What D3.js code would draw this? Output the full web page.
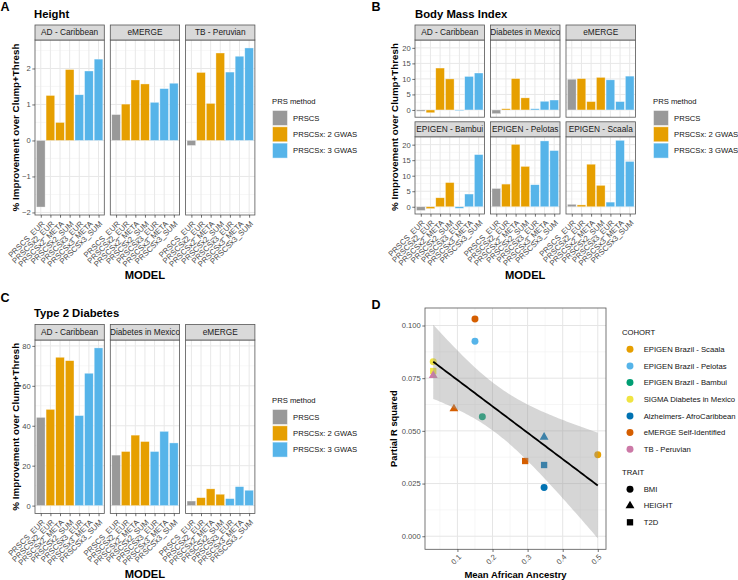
<!DOCTYPE html>
<html>
<head>
<meta charset="UTF-8">
<script src="https://d3js.org/d3.v7.min.js"></script>
<title>PRS improvement</title>
<style>
body{margin:0;background:#fff;}
svg{display:block;font-family:"Liberation Sans",Arial,sans-serif;}
</style>
</head>
<body>
<div id="container"></div>
<script>
// bar panels: models on x, one series per cohort
var models = ["PRSCS_EUR","PRSCSx2_EUR","PRSCSx2_META","PRSCSx2_SUM","PRSCSx3_EUR","PRSCSx3_META","PRSCSx3_SUM"];
var modelMethod = ["PRSCS","PRSCSx: 2 GWAS","PRSCSx: 2 GWAS","PRSCSx: 2 GWAS","PRSCSx: 3 GWAS","PRSCSx: 3 GWAS","PRSCSx: 3 GWAS"];
var methods = ["PRSCS","PRSCSx: 2 GWAS","PRSCSx: 3 GWAS"];
var methodColors = ["#999999","#E69F00","#56B4E9"];

var heightCohorts = ["AD - Caribbean","eMERGE","TB - Peruvian"];
var heightValues = [
  [-1.85,1.25,0.50,1.97,1.27,1.93,2.26],
  [0.72,1.01,1.68,1.57,1.06,1.44,1.59],
  [-0.14,1.89,1.03,2.43,1.90,2.34,2.57]
];
var heightTicks = [-2,-1,0,1,2];

var bmiCohorts = ["AD - Caribbean","Diabetes in Mexico","eMERGE","EPIGEN - Bambui","EPIGEN - Pelotas","EPIGEN - Scaala"];
var bmiValues = [
  [-0.4,-0.9,13.5,10.0,-0.2,10.8,11.9],
  [-1.2,0.4,10.1,3.9,0.4,2.8,3.2],
  [9.9,10.1,2.7,10.5,9.7,2.7,10.9],
  [-1.2,-0.6,2.9,7.8,-0.5,4.1,16.8],
  [5.9,7.3,20.1,13.0,7.1,21.2,18.1],
  [0.8,0.6,13.7,6.9,1.5,21.4,14.6]
];
var bmiTicks = [0,5,10,15,20];

var t2dCohorts = ["AD - Caribbean","Diabetes in Mexico","eMERGE"];
var t2dValues = [
  [44.2,48.2,74.3,72.6,45.1,66.3,79.0],
  [25.3,27.1,35.3,32.1,27.1,37.2,31.4],
  [2.3,4.0,8.4,5.7,3.5,9.5,7.7]
];
var t2dTicks = [0,20,40,60,80];

// scatter panel D
var cohorts = ["EPIGEN Brazil - Scaala","EPIGEN Brazil - Pelotas","EPIGEN Brazil - Bambui","SIGMA Diabetes in Mexico","Alzheimers- AfroCaribbean","eMERGE Self-Identified","TB - Peruvian"];
var cohortColors = ["#E69F00","#56B4E9","#009E73","#F0E442","#0072B2","#D55E00","#CC79A7"];
var traits = ["BMI","HEIGHT","T2D"];
var pointCohort = ["EPIGEN Brazil - Scaala","EPIGEN Brazil - Pelotas","EPIGEN Brazil - Bambui","SIGMA Diabetes in Mexico","SIGMA Diabetes in Mexico","Alzheimers- AfroCaribbean","Alzheimers- AfroCaribbean","Alzheimers- AfroCaribbean","eMERGE Self-Identified","eMERGE Self-Identified","eMERGE Self-Identified","TB - Peruvian"];
var pointTrait = ["BMI","BMI","BMI","BMI","T2D","BMI","HEIGHT","T2D","BMI","HEIGHT","T2D","HEIGHT"];
var ancestry = [0.50,0.15,0.171,0.031,0.031,0.347,0.347,0.347,0.15,0.09,0.293,0.031];
var partialR2 = [0.0387,0.0925,0.0567,0.0828,0.0784,0.0231,0.047,0.0338,0.1031,0.0605,0.0357,0.0763];
var xTicksD = [0.1,0.2,0.3,0.4,0.5];
var yTicksD = [0,0.025,0.05,0.075,0.1];

var svg = d3.select("#container").append("svg").attr("width",738).attr("height",580);
svg.append("rect").attr("width",738).attr("height",580).attr("fill","#fff");
var defs = svg.append("defs");

function expandRange(lo,hi){ var r=hi-lo; return [lo-r*0.05, hi+r*0.05]; }
function minorTicks(ticks,dom){
  var step=ticks[1]-ticks[0], out=[];
  for(var i=-1;i<ticks.length;i++){
    var m=ticks[0]+(i+0.5)*step;
    if(m>=Math.min(dom[0],dom[1]) && m<=Math.max(dom[0],dom[1])) out.push(m);
  }
  return out;
}
function styleAxis(a){
  a.select(".domain").remove();
  a.selectAll(".tick line").attr("stroke","#333").attr("stroke-width",0.7);
  a.selectAll(".tick text").attr("fill","#4D4D4D").attr("font-size",7.6).attr("font-family",null);
}

var clipN=0;
function facetBars(cfg){
  var all=d3.merge(cfg.values);
  var dom=expandRange(Math.min(0,d3.min(all)),Math.max(0,d3.max(all)));
  var y=d3.scaleLinear().domain(dom).range([cfg.ph,0]);
  var x=d3.scalePoint().domain(models).range([0,cfg.pw]).padding(0.6);
  var bw=x.step()*0.9;
  var n=cfg.cohorts.length;
  var nrow=Math.ceil(n/cfg.ncol);
  cfg.cohorts.forEach(function(name,k){
    var col=k%cfg.ncol, row=Math.floor(k/cfg.ncol);
    var px=cfg.x0+col*(cfg.pw+cfg.gap);
    var sy=cfg.top+row*(cfg.stripH+cfg.ph+cfg.rowGap);
    var py=sy+cfg.stripH;
    var g=svg.append("g").attr("transform","translate("+px+","+py+")");
    g.append("rect").attr("width",cfg.pw).attr("height",cfg.ph).attr("fill","#fff");
    g.selectAll(".minor").data(minorTicks(cfg.ticks,dom)).enter().append("line").attr("class","minor")
      .attr("x1",0).attr("x2",cfg.pw).attr("y1",y).attr("y2",y)
      .attr("stroke","#F2F2F2").attr("stroke-width",0.6);
    g.selectAll(".hgrid").data(cfg.ticks).enter().append("line").attr("class","hgrid")
      .attr("x1",0).attr("x2",cfg.pw).attr("y1",y).attr("y2",y)
      .attr("stroke","#E8E8E8").attr("stroke-width",1);
    g.selectAll(".vgrid").data(models).enter().append("line").attr("class","vgrid")
      .attr("x1",x).attr("x2",x).attr("y1",0).attr("y2",cfg.ph)
      .attr("stroke","#E8E8E8").attr("stroke-width",1);
    g.selectAll(".bar").data(cfg.values[k]).enter().append("rect").attr("class","bar")
      .attr("x",function(d,i){return x(models[i])-bw/2;})
      .attr("y",function(d){return y(Math.max(0,d));})
      .attr("width",bw)
      .attr("height",function(d){return Math.abs(y(d)-y(0));})
      .attr("fill",function(d,i){return methodColors[methods.indexOf(modelMethod[i])];})
      .attr("stroke","#fff").attr("stroke-opacity",0.6).attr("stroke-width",0.6);
    g.append("rect").attr("width",cfg.pw).attr("height",cfg.ph)
      .attr("fill","none").attr("stroke","#555").attr("stroke-width",0.8);

    // strip
    var id="clip"+(clipN++);
    defs.append("clipPath").attr("id",id).append("rect").attr("width",cfg.pw).attr("height",cfg.stripH);
    var s=svg.append("g").attr("transform","translate("+px+","+sy+")");
    s.append("rect").attr("width",cfg.pw).attr("height",cfg.stripH)
      .attr("fill","#D9D9D9").attr("stroke","#555").attr("stroke-width",0.8);
    s.append("g").attr("clip-path","url(#"+id+")").append("text")
      .attr("x",cfg.pw/2).attr("y",cfg.stripH/2).attr("dy","0.35em")
      .attr("text-anchor","middle").attr("font-size",8.3).attr("fill","#1A1A1A").text(name);

    if(col===0){
      var ay=g.append("g").call(d3.axisLeft(y).tickValues(cfg.ticks).tickSize(2.7).tickPadding(1.6).tickFormat(d3.format("d")));
      styleAxis(ay);
    }
    if(k+cfg.ncol>=n){
      var ax=g.append("g").attr("transform","translate(0,"+cfg.ph+")")
        .call(d3.axisBottom(x).tickSize(2.7));
      styleAxis(ax);
      ax.selectAll(".tick text").attr("y",0).attr("x",0).attr("dy","0.7em")
        .attr("font-size",7.8).attr("text-anchor","end")
        .attr("transform","translate(0,5.5) rotate(-45)");
    }
  });
  var totalW=cfg.ncol*cfg.pw+(cfg.ncol-1)*cfg.gap;
  var totalH=nrow*(cfg.stripH+cfg.ph)+(nrow-1)*cfg.rowGap;
  var midY=cfg.top+cfg.stripH+(totalH-cfg.stripH)/2;
  svg.append("text").attr("transform","translate("+cfg.yTitleX+","+midY+") rotate(-90)")
    .attr("text-anchor","middle").attr("font-size",9.8).attr("font-weight","bold")
    .text("% Improvement over Clump+Thresh");
  svg.append("text").attr("x",cfg.x0+totalW/2).attr("y",cfg.modelY)
    .attr("text-anchor","middle").attr("font-size",11.2).attr("font-weight","bold").text("MODEL");
  svg.append("text").attr("x",cfg.titleX).attr("y",cfg.titleY)
    .attr("font-size",11.3).attr("font-weight","bold").text(cfg.title);
}

function prsLegend(lx,ly){
  svg.append("text").attr("x",lx).attr("y",ly).attr("font-size",7.7).attr("fill","#111").text("PRS method");
  methods.forEach(function(m,i){
    var ky=ly+6+i*16.3;
    svg.append("rect").attr("x",lx+0.5).attr("y",ky+0.5).attr("width",15).attr("height",15)
      .attr("fill",methodColors[i]).attr("stroke","#fff").attr("stroke-opacity",0.6).attr("stroke-width",0.8);
    svg.append("text").attr("x",lx+21).attr("y",ky+8).attr("dy","0.35em")
      .attr("font-size",7.7).attr("fill","#111").text(m);
  });
}

function panelLetter(t,lx,ly){
  svg.append("text").attr("x",lx).attr("y",ly).attr("font-size",12.5).attr("font-weight","bold").text(t);
}

// A
panelLetter("A",0.5,10.5);
facetBars({cohorts:heightCohorts,values:heightValues,ticks:heightTicks,x0:35,top:25,stripH:15,pw:69.3,ph:175,gap:6,rowGap:0,ncol:3,
  yTitleX:18.5,modelY:278.5,title:"Height",titleX:34,titleY:17.5});
prsLegend(272,104);

// B
panelLetter("B",371.5,10.5);
facetBars({cohorts:bmiCohorts,values:bmiValues,ticks:bmiTicks,x0:415,top:25,stripH:15,pw:69.5,ph:77.2,gap:6,rowGap:4.6,ncol:3,
  yTitleX:397.5,modelY:278.5,title:"Body Mass Index",titleX:415,titleY:17.5});
prsLegend(653,104);

// C
panelLetter("C",0.5,302);
facetBars({cohorts:t2dCohorts,values:t2dValues,ticks:t2dTicks,x0:35,top:324.5,stripH:15.5,pw:69.3,ph:173.5,gap:6,rowGap:0,ncol:3,
  yTitleX:18.5,modelY:577.5,title:"Type 2 Diabetes",titleX:34,titleY:316.5});
prsLegend(272,403);

// D
panelLetter("D",371.5,309);
(function(){
  var L=425,R=606,T=308,B=549.3;
  var n=ancestry.length;
  var xbar=d3.mean(ancestry), ybar=d3.mean(partialR2);
  var sxx=d3.sum(ancestry,function(v){return (v-xbar)*(v-xbar);});
  var sxy=d3.sum(ancestry,function(v,i){return (v-xbar)*(partialR2[i]-ybar);});
  var slope=sxy/sxx, icpt=ybar-slope*xbar;
  var rss=d3.sum(ancestry,function(v,i){var e=partialR2[i]-(icpt+slope*v);return e*e;});
  var sres=Math.sqrt(rss/(n-2));
  var tCrit=2.228; // qt(0.975, df = 10)
  var xe=d3.extent(ancestry);
  var fit=d3.range(80).map(function(i){
    var xv=xe[0]+i*(xe[1]-xe[0])/79;
    var yv=icpt+slope*xv;
    var se=sres*Math.sqrt(1/n+(xv-xbar)*(xv-xbar)/sxx);
    return {x:xv,y:yv,lo:yv-tCrit*se,hi:yv+tCrit*se};
  });
  var ylo=Math.min(d3.min(partialR2),d3.min(fit,function(d){return d.lo;}));
  var yhi=Math.max(d3.max(partialR2),d3.max(fit,function(d){return d.hi;}));
  var x=d3.scaleLinear().domain(expandRange(xe[0],xe[1])).range([0,R-L]);
  var y=d3.scaleLinear().domain(expandRange(ylo,yhi)).range([B-T,0]);
  var g=svg.append("g").attr("transform","translate("+L+","+T+")");
  g.append("rect").attr("width",R-L).attr("height",B-T).attr("fill","#fff");
  g.selectAll(".mx").data(minorTicks(xTicksD,x.domain())).enter().append("line").attr("class","mx")
    .attr("x1",x).attr("x2",x).attr("y1",0).attr("y2",B-T).attr("stroke","#F0F0F0").attr("stroke-width",0.6);
  g.selectAll(".my").data(minorTicks(yTicksD,y.domain())).enter().append("line").attr("class","my")
    .attr("y1",y).attr("y2",y).attr("x1",0).attr("x2",R-L).attr("stroke","#F0F0F0").attr("stroke-width",0.6);
  g.selectAll(".gx").data(xTicksD).enter().append("line").attr("class","gx")
    .attr("x1",x).attr("x2",x).attr("y1",0).attr("y2",B-T).attr("stroke","#E5E5E5").attr("stroke-width",1);
  g.selectAll(".gy").data(yTicksD).enter().append("line").attr("class","gy")
    .attr("y1",y).attr("y2",y).attr("x1",0).attr("x2",R-L).attr("stroke","#E5E5E5").attr("stroke-width",1);

  var shapes={BMI:d3.symbolCircle,HEIGHT:d3.symbolTriangle,T2D:d3.symbolSquare};
  var sizes={BMI:38,HEIGHT:34,T2D:40};
  g.selectAll(".pt").data(ancestry).enter().append("path").attr("class","pt")
    .attr("transform",function(d,i){return "translate("+x(d)+","+y(partialR2[i])+")";})
    .attr("d",function(d,i){return d3.symbol().type(shapes[pointTrait[i]]).size(sizes[pointTrait[i]])();})
    .attr("fill",function(d,i){return cohortColors[cohorts.indexOf(pointCohort[i])];});

  g.append("path").datum(fit)
    .attr("d",d3.area().x(function(d){return x(d.x);}).y0(function(d){return y(d.lo);}).y1(function(d){return y(d.hi);}))
    .attr("fill","#999999").attr("fill-opacity",0.4);
  g.append("path").datum(fit)
    .attr("d",d3.line().x(function(d){return x(d.x);}).y(function(d){return y(d.y);}))
    .attr("fill","none").attr("stroke","#000").attr("stroke-width",1.8);

  g.append("rect").attr("width",R-L).attr("height",B-T).attr("fill","none").attr("stroke","#555").attr("stroke-width",0.8);

  var ay=g.append("g").call(d3.axisLeft(y).tickValues(yTicksD).tickSize(2.7).tickPadding(1.6).tickFormat(d3.format(".3f")));
  styleAxis(ay);
  var ax=g.append("g").attr("transform","translate(0,"+(B-T)+")")
    .call(d3.axisBottom(x).tickValues(xTicksD).tickSize(2.7).tickFormat(d3.format(".1f")));
  styleAxis(ax);
  ax.selectAll(".tick text").attr("y",0).attr("x",0).attr("dy","0.7em").attr("text-anchor","end")
    .attr("transform","translate(0,4.5) rotate(-45)");

  svg.append("text").attr("transform","translate(396.5,"+((T+B)/2)+") rotate(-90)")
    .attr("text-anchor","middle").attr("font-size",9.3).attr("font-weight","bold").text("Partial R squared");
  svg.append("text").attr("x",(L+R)/2).attr("y",577.5).attr("text-anchor","middle")
    .attr("font-size",9.5).attr("font-weight","bold").text("Mean African Ancestry");

  // legends
  svg.append("text").attr("x",622).attr("y",335).attr("font-size",7.7).attr("fill","#111").text("COHORT");
  cohorts.forEach(function(c,i){
    var cy=349.3+i*16.65;
    svg.append("path").attr("transform","translate(630,"+cy+")")
      .attr("d",d3.symbol().type(d3.symbolCircle).size(38)()).attr("fill",cohortColors[i]);
    svg.append("text").attr("x",643.7).attr("y",cy).attr("dy","0.35em").attr("font-size",7.7).attr("fill","#111").text(c);
  });
  svg.append("text").attr("x",622).attr("y",475).attr("font-size",7.7).attr("fill","#111").text("TRAIT");
  traits.forEach(function(t,i){
    var cy=489.3+i*16.5;
    svg.append("path").attr("transform","translate(630,"+cy+")")
      .attr("d",d3.symbol().type(shapes[t]).size(sizes[t])()).attr("fill","#000");
    svg.append("text").attr("x",643.7).attr("y",cy).attr("dy","0.35em").attr("font-size",7.7).attr("fill","#111").text(t);
  });
})();
</script>
</body>
</html>
